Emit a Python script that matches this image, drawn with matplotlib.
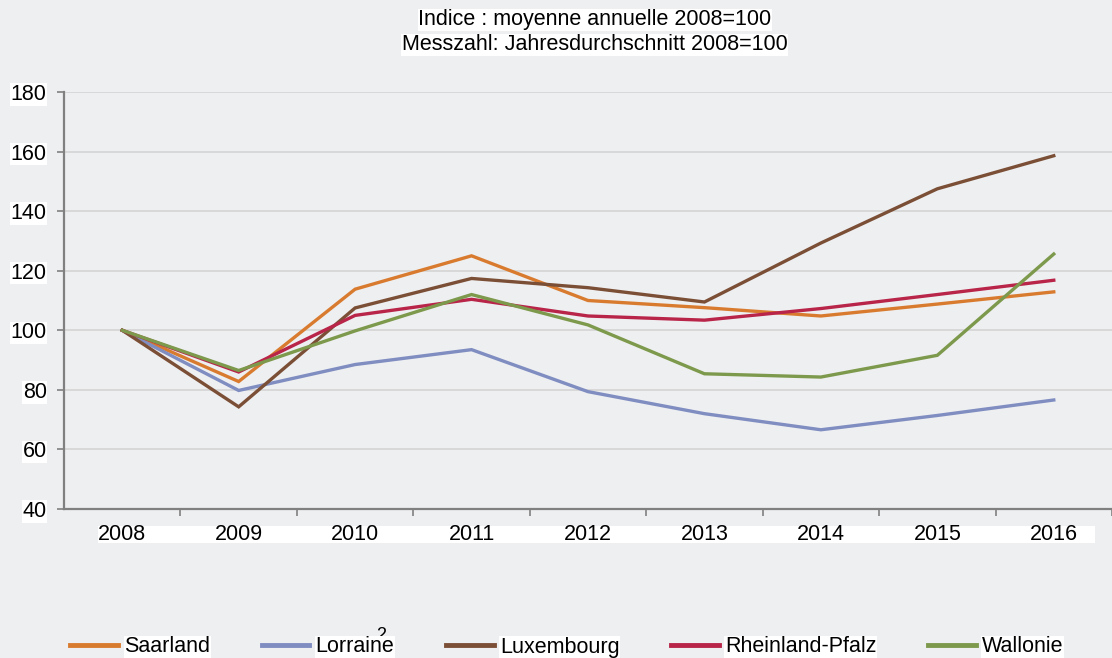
import numpy as np
import matplotlib
matplotlib.use("Agg")
import matplotlib.pyplot as plt
from matplotlib.patches import Rectangle

plt.rcParams['font.family'] = ['Liberation Sans', 'DejaVu Sans']

years = ['2008', '2009', '2010', '2011', '2012', '2013', '2014', '2015', '2016']
saarland = [100, 82.8, 113.8, 125.0, 110.0, 107.6, 104.8, 108.8, 112.9]
lorraine = [100, 79.8, 88.5, 93.5, 79.4, 72.0, 66.6, 71.4, 76.6]
luxembourg = [100, 74.3, 107.5, 117.4, 114.3, 109.5, 129.3, 147.5, 158.6]
rheinland = [100, 86.0, 105.0, 110.4, 104.8, 103.4, 107.3, 112.0, 116.8]
wallonie = [100, 86.5, 99.8, 112.0, 101.8, 85.4, 84.3, 91.6, 125.6]

names = ['Saarland', 'Lorraine', 'Luxembourg', 'Rheinland-Pfalz', 'Wallonie']
colors = ['#D97B2F', '#7F8DC1', '#7B4F36', '#B82549', '#7D994C']
series = [saarland, lorraine, luxembourg, rheinland, wallonie]

bg = '#EEEFF1'
fig = plt.figure(figsize=(11.12, 6.58), dpi=100, facecolor=bg)
ax = fig.add_axes([64 / 1112, 149 / 658, 1 - 64 / 1112, 417 / 658])
ax.set_facecolor(bg)

x = np.arange(len(years))
for vals, name, c in zip(series, names, colors):
    ax.plot(x, vals, color=c, lw=2.4, label=name, solid_joinstyle='miter')

ax.set_ylim(40, 180)
ax.set_yticks(range(40, 181, 20))
ax.set_xlim(-0.5, (1112 - 64) / 117.5 - 0.5)
ax.set_xticks(x)
ax.set_xticklabels(years)
ax.set_xticks(np.arange(0.5, 8.6, 1), minor=True)
ax.tick_params(axis='x', which='major', length=0, pad=11, labelsize=15.5)
ax.tick_params(axis='x', which='minor', length=5, width=1.2, color='#808080', direction='out')
ax.tick_params(axis='y', length=5, width=1.2, color='#808080', pad=7.5, labelsize=15.5)
for lab in ax.get_yticklabels():
    lab.set_bbox(dict(facecolor='white', edgecolor='none', pad=0.5))

ax.grid(axis='y', color='#D6D6D6', lw=1.3)
ax.set_axisbelow(True)
for s in ['top', 'right']:
    ax.spines[s].set_visible(False)
for s in ['left', 'bottom']:
    ax.spines[s].set_color('#808080')
    ax.spines[s].set_linewidth(1.6)

# white strip behind year labels
fig.patches.append(Rectangle((98 / 1112, (658 - 543) / 658), 997 / 1112, 17 / 658,
                             transform=fig.transFigure, facecolor='white', edgecolor='none', zorder=-1))

fig.text(0.535, 1 - 20 / 658, 'Indice : moyenne annuelle 2008=100', ha='center', va='center',
         fontsize=15.5, bbox=dict(facecolor='white', edgecolor='none', pad=0.5))
fig.text(0.535, 1 - 45 / 658, 'Messzahl: Jahresdurchschnitt 2008=100', ha='center', va='center',
         fontsize=15.5, bbox=dict(facecolor='white', edgecolor='none', pad=0.5))

leg = fig.legend(loc='center', bbox_to_anchor=(567 / 1112, 1 - 647 / 658), ncol=5, frameon=False,
                 fontsize=15.5, handlelength=2.2, handletextpad=0.3, columnspacing=2.4,
                 borderpad=0, borderaxespad=0)
for t in leg.get_texts():
    t.set_bbox(dict(facecolor='white', edgecolor='none', pad=0.5))
for h in leg.legend_handles:
    h.set_linewidth(3.5)

fig.text(381 / 1112, 1 - 636 / 658, '2', ha='center', va='center', fontsize=13)

fig.savefig('out.png', dpi=100, facecolor=bg)
